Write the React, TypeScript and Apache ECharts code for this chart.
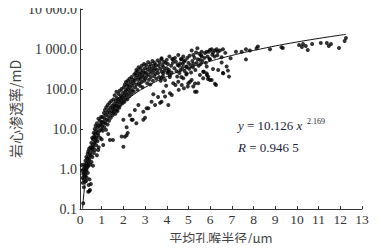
import React, { useEffect, useRef } from "react";
import * as echarts from "echarts";

// Scatter samples: [mean pore-throat radius (μm), core permeability (mD)]
const samplesBelow1: [number, number][] = [
  [0.08, 1.25], [0.1, 0.9], [0.12, 0.6], [0.13, 0.45], [0.15, 0.14], [0.15, 0.75], [0.16, 1.0], [0.17, 0.55],
  [0.18, 0.35], [0.19, 1.3], [0.2, 0.8], [0.21, 0.65], [0.22, 1.1], [0.23, 0.48], [0.24, 0.9], [0.25, 1.6],
  [0.26, 0.7], [0.27, 1.2], [0.28, 0.5], [0.29, 2.0], [0.3, 0.95], [0.31, 1.4], [0.32, 0.6], [0.33, 1.8],
  [0.34, 1.1], [0.35, 2.4], [0.36, 0.8], [0.37, 1.5], [0.38, 2.8], [0.38, 0.27], [0.39, 1.2], [0.4, 0.4],
  [0.41, 2.0], [0.42, 3.2], [0.43, 0.28], [0.43, 1.7], [0.44, 0.55], [0.45, 2.5], [0.46, 0.3], [0.47, 1.3],
  [0.48, 3.5], [0.5, 2.2], [0.5, 0.42], [0.52, 4.5], [0.53, 1.5], [0.54, 3.3], [0.55, 3.0], [0.56, 6.0],
  [0.57, 2.0], [0.58, 4.0], [0.6, 1.2], [0.6, 5.5], [0.62, 3.5], [0.63, 8.0], [0.64, 2.5], [0.65, 6.5],
  [0.66, 4.5], [0.68, 10], [0.69, 6.0], [0.69, 3.0], [0.7, 7.5], [0.71, 5.0], [0.72, 12], [0.74, 4.0],
  [0.75, 9.0], [0.76, 6.0], [0.78, 2.2], [0.78, 14], [0.8, 8.0], [0.81, 5.0], [0.82, 11], [0.84, 3.0],
  [0.84, 7.0], [0.85, 18], [0.86, 3.5], [0.88, 12], [0.9, 9.0], [0.92, 16], [0.93, 6.0], [0.95, 13],
  [0.97, 20], [0.98, 10],
];

const samples1to3: [number, number][] = [
  [1.0, 5.5], [1.0, 15], [1.02, 12], [1.04, 20], [1.05, 9], [1.07, 4], [1.08, 15], [1.1, 25], [1.12, 11],
  [1.13, 18], [1.15, 30], [1.16, 14], [1.18, 22], [1.2, 9.5], [1.21, 35], [1.23, 17], [1.25, 26], [1.27, 13],
  [1.28, 40], [1.3, 7.5], [1.3, 21], [1.32, 30], [1.34, 16], [1.36, 45], [1.38, 5.3], [1.38, 25], [1.4, 34],
  [1.42, 19], [1.44, 50], [1.46, 28], [1.48, 38], [1.5, 22],
  [1.52, 5.3], [1.52, 33], [1.54, 55], [1.55, 26], [1.57, 42], [1.58, 30], [1.6, 70], [1.61, 36], [1.63, 24],
  [1.64, 50], [1.66, 38], [1.68, 85], [1.69, 30], [1.7, 60], [1.72, 44], [1.73, 28], [1.75, 55], [1.76, 36],
  [1.78, 75], [1.8, 48], [1.81, 34], [1.83, 90], [1.85, 58], [1.86, 40], [1.88, 68], [1.9, 50], [1.92, 6.5],
  [1.92, 100], [1.94, 62], [1.96, 44], [1.98, 80], [2.0, 3.6], [2.0, 17], [2.0, 55],
  [2.02, 110], [2.04, 70], [2.05, 48], [2.07, 6.4], [2.07, 130], [2.08, 85], [2.1, 60], [2.12, 150], [2.13, 95],
  [2.15, 7.0], [2.15, 11], [2.15, 72], [2.17, 120], [2.18, 55], [2.2, 8.0], [2.2, 160], [2.21, 100], [2.23, 80],
  [2.25, 130], [2.26, 65], [2.28, 180], [2.3, 22], [2.3, 110], [2.32, 90], [2.34, 150], [2.36, 75], [2.38, 17],
  [2.38, 200], [2.4, 120], [2.42, 95], [2.43, 17], [2.44, 170], [2.46, 140], [2.48, 85], [2.5, 230],
  [2.52, 160], [2.53, 30], [2.54, 110], [2.56, 250], [2.58, 190], [2.6, 14], [2.6, 300], [2.61, 130], [2.63, 220],
  [2.65, 95], [2.66, 280], [2.68, 170], [2.69, 40], [2.7, 350], [2.72, 140], [2.74, 240], [2.75, 200], [2.77, 120],
  [2.78, 320], [2.8, 180], [2.82, 260], [2.84, 150], [2.85, 380], [2.87, 220], [2.88, 110], [2.9, 290], [2.92, 27],
  [2.92, 17], [2.93, 200], [2.95, 420], [2.96, 160], [2.98, 250],
];

const samples3to5: [number, number][] = [
  [3.0, 19], [3.0, 330], [3.02, 180], [3.04, 260], [3.05, 400], [3.07, 33], [3.08, 210], [3.1, 140], [3.12, 310],
  [3.14, 470], [3.15, 33], [3.16, 230], [3.18, 170], [3.2, 360], [3.22, 280], [3.24, 130], [3.25, 420], [3.27, 200],
  [3.3, 48], [3.3, 320], [3.32, 250], [3.34, 500], [3.36, 160], [3.38, 74], [3.38, 380], [3.4, 290], [3.42, 210],
  [3.44, 450], [3.46, 40], [3.46, 330], [3.48, 240], [3.5, 400],
  [3.52, 180], [3.55, 300], [3.58, 520], [3.6, 63], [3.6, 250], [3.63, 380], [3.65, 200], [3.67, 460], [3.69, 45],
  [3.7, 320], [3.72, 160], [3.75, 550], [3.76, 589], [3.76, 186], [3.76, 48], [3.77, 270], [3.8, 400], [3.82, 210],
  [3.84, 246], [3.84, 85], [3.85, 350], [3.87, 480], [3.9, 290], [3.92, 168], [3.92, 65], [3.95, 450], [3.97, 120],
  [4.0, 330], [4.0, 535],
  [4.03, 250], [4.05, 420], [4.07, 40], [4.07, 270], [4.1, 300], [4.12, 646], [4.14, 200], [4.15, 78], [4.15, 224],
  [4.2, 380], [4.22, 260], [4.23, 71], [4.25, 560], [4.28, 450], [4.3, 139], [4.3, 552], [4.35, 330], [4.38, 600],
  [4.4, 126], [4.42, 480], [4.45, 280], [4.48, 204], [4.5, 400],
  [4.53, 708], [4.53, 152], [4.55, 95], [4.56, 380], [4.58, 250], [4.61, 437], [4.63, 300], [4.65, 560], [4.67, 200],
  [4.69, 552], [4.69, 126], [4.72, 340], [4.74, 420], [4.76, 646], [4.76, 186], [4.79, 480], [4.79, 105], [4.82, 280],
  [4.85, 520], [4.88, 360], [4.9, 230], [4.92, 363], [4.92, 246], [4.95, 600], [4.97, 115], [4.99, 139], [5.0, 450],
];

const samplesAbove5: [number, number][] = [
  [5.03, 320], [5.05, 680], [5.07, 151], [5.1, 400], [5.12, 260], [5.15, 912], [5.15, 168], [5.18, 500], [5.2, 350],
  [5.22, 708], [5.22, 115], [5.25, 420], [5.28, 600], [5.3, 85], [5.3, 138], [5.32, 300], [5.35, 813], [5.38, 85],
  [5.38, 450], [5.41, 1047], [5.43, 550], [5.45, 139], [5.47, 380], [5.5, 759],
  [5.53, 535], [5.53, 224], [5.56, 420], [5.58, 700], [5.61, 646], [5.61, 855], [5.64, 500], [5.68, 186], [5.68, 270],
  [5.71, 270], [5.74, 600], [5.76, 794], [5.8, 450], [5.84, 855], [5.84, 246], [5.84, 363], [5.85, 224], [5.88, 650],
  [5.9, 178], [5.91, 204], [5.94, 855], [5.97, 560], [5.99, 950], [5.99, 168], [5.99, 550],
  [6.07, 990], [6.07, 168], [6.1, 720], [6.13, 813], [6.13, 316], [6.2, 650], [6.22, 912], [6.22, 135], [6.27, 126],
  [6.3, 980], [6.33, 700], [6.36, 855], [6.37, 300], [6.45, 912], [6.53, 457], [6.53, 620], [6.59, 990], [6.59, 251],
  [6.6, 246], [6.7, 800], [6.76, 363], [6.82, 288], [6.87, 204], [6.94, 589],
  [7.19, 855], [7.45, 855], [7.65, 980], [7.65, 550], [7.83, 912], [8.14, 1050], [8.2, 1150], [8.76, 990],
  [9.29, 1100], [9.35, 1060], [10.1, 1260], [10.23, 1120], [10.28, 1330], [10.41, 1190], [10.5, 944], [10.7, 1330],
  [11.1, 1410], [11.38, 1410], [11.47, 1190], [11.57, 1330], [11.94, 1060], [12.2, 1585], [12.26, 1880],
];

// Power-law fit y = 10.126 x^2.169, tabulated at selected radii
const fitCurvePoints: [number, number][] = [
  [0.12, 0.1019], [0.15, 0.1654], [0.2, 0.3085], [0.25, 0.5008], [0.3, 0.7434], [0.4, 1.387], [0.5, 2.252],
  [0.7, 4.672], [1, 10.126], [1.25, 16.43], [1.5, 24.4], [2, 45.54], [2.5, 73.89], [3, 109.7], [4, 204.8],
  [5, 332.3], [6, 493.4], [7, 689.4], [8, 920.9], [10, 1494.6], [12.26, 2324],
];

const xTicks = { min: 0, max: 13, interval: 1 };
const yRange = { min: 0.1, max: 10000 };

const fitEquation = { coef: "10.126", power: "2.169", r: "0.946 5" };

const serif = "'Liberation Serif', 'Times New Roman', serif";
const cjk = "'Noto Sans CJK SC', sans-serif";

function formatPerm(v: number): string {
  if (v < 1) return v.toFixed(1);
  const s = Math.round(v).toString();
  const grouped = s.length >= 4 ? s.replace(/\B(?=(\d{3})+(?!\d))/g, " ") : s;
  return grouped + ".0";
}

export default function App() {
  const ref = useRef<HTMLDivElement>(null);
  useEffect(() => {
    if (!ref.current) return;
    const chart = echarts.init(ref.current, null, { renderer: "svg" });
    const allSamples = [...samplesBelow1, ...samples1to3, ...samples3to5, ...samplesAbove5];
    chart.setOption({
      animation: false,
      backgroundColor: "#fff",
      grid: { left: 80, right: 21, top: 9, bottom: 42, containLabel: false, outerBoundsMode: "none" },
      xAxis: {
        type: "value",
        min: xTicks.min,
        max: xTicks.max,
        interval: xTicks.interval,
        name: "平均孔喉半径/μm",
        nameLocation: "middle",
        nameGap: 22,
        nameMoveOverlap: false,
        nameTextStyle: { fontFamily: cjk, fontSize: 13, color: "#444" },
        axisLine: { lineStyle: { color: "#333", width: 1 } },
        axisTick: { inside: true, length: 3, lineStyle: { color: "#333" } },
        axisLabel: { fontFamily: serif, fontSize: 13.5, color: "#333", margin: 3 },
        splitLine: { show: false },
      },
      yAxis: {
        type: "log",
        logBase: 10,
        min: yRange.min,
        max: yRange.max,
        name: "岩心渗透率/mD",
        nameLocation: "middle",
        nameGap: 58,
        nameMoveOverlap: false,
        nameTextStyle: { fontFamily: cjk, fontSize: 14, color: "#444" },
        axisLine: { show: true, lineStyle: { color: "#333", width: 1 } },
        axisTick: { show: true, inside: true, length: 3, lineStyle: { color: "#333" } },
        axisLabel: { fontFamily: serif, fontSize: 14, color: "#333", margin: 3, formatter: formatPerm },
        splitLine: { show: false },
        minorTick: { show: false },
      },
      series: [
        {
          type: "scatter",
          data: allSamples,
          symbol: "circle",
          symbolSize: 4,
          itemStyle: { color: "#000" },
          z: 2,
        },
        {
          type: "line",
          data: fitCurvePoints,
          smooth: true,
          showSymbol: false,
          symbol: "none",
          lineStyle: { color: "#111", width: 1 },
          z: 3,
        },
      ],
      graphic: [
        {
          type: "text",
          left: 238,
          top: 119,
          style: {
            text: `{i|y} = ${fitEquation.coef} {i|x}`,
            fontFamily: serif,
            fontSize: 13,
            fill: "#1c1c3a",
            rich: { i: { fontStyle: "italic", fontFamily: serif, fontSize: 13, fill: "#1c1c3a" } },
          },
        },
        {
          type: "text",
          left: 307,
          top: 117,
          style: { text: fitEquation.power, fontFamily: serif, fontSize: 8, fill: "#1c1c3a" },
        },
        {
          type: "text",
          left: 238,
          top: 141,
          style: {
            text: `{i|R} = ${fitEquation.r}`,
            fontFamily: serif,
            fontSize: 13,
            fill: "#1c1c3a",
            rich: { i: { fontStyle: "italic", fontFamily: serif, fontSize: 13, fill: "#1c1c3a" } },
          },
        },
      ],
    });
    return () => chart.dispose();
  }, []);
  return <div ref={ref} style={{ width: 383, height: 251, margin: -8 }} />;
}
